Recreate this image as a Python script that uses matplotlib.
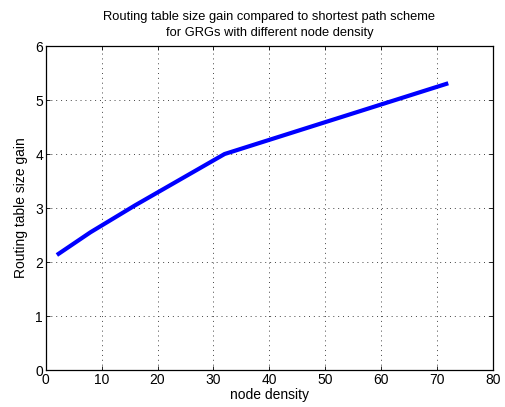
import matplotlib
matplotlib.use("Agg")
import matplotlib.pyplot as plt

# values
node_density = [2, 8, 16, 32, 50, 72]
table_gain = [2.13, 2.55, 3.05, 4.0, 4.59, 5.31]

x_ticks = [0, 10, 20, 30, 40, 50, 60, 70, 80]
y_ticks = [0, 1, 2, 3, 4, 5, 6]

plt.rcParams["font.family"] = ["Liberation Sans", "DejaVu Sans"]
plt.rcParams["font.size"] = 10

fig = plt.figure(figsize=(5.05, 4.07), dpi=100)
ax = fig.add_axes([45.7 / 505, 37 / 407, (493 - 45.7) / 505, (370 - 46) / 407])

ax.plot(node_density, table_gain, color="#0000ff", linewidth=3, solid_capstyle="butt")

ax.set_xlim(0, 80)
ax.set_ylim(0, 6)
ax.set_xticks(x_ticks)
ax.set_yticks(y_ticks)
ax.tick_params(direction="in", top=True, right=True, length=3, width=0.6, pad=2)
ax.grid(True, linestyle=(0, (1, 4)), color="#444444", linewidth=0.7)
for s in ax.spines.values():
    s.set_linewidth(0.9)

ax.set_xlabel("node density", labelpad=1)
ax.set_ylabel("Routing table size gain", labelpad=5)
ax.set_title("Routing table size gain compared to shortest path scheme\n"
             "for GRGs with different node density", fontsize=9.3, pad=7, linespacing=1.45)

fig.savefig("out.png", dpi=100)
